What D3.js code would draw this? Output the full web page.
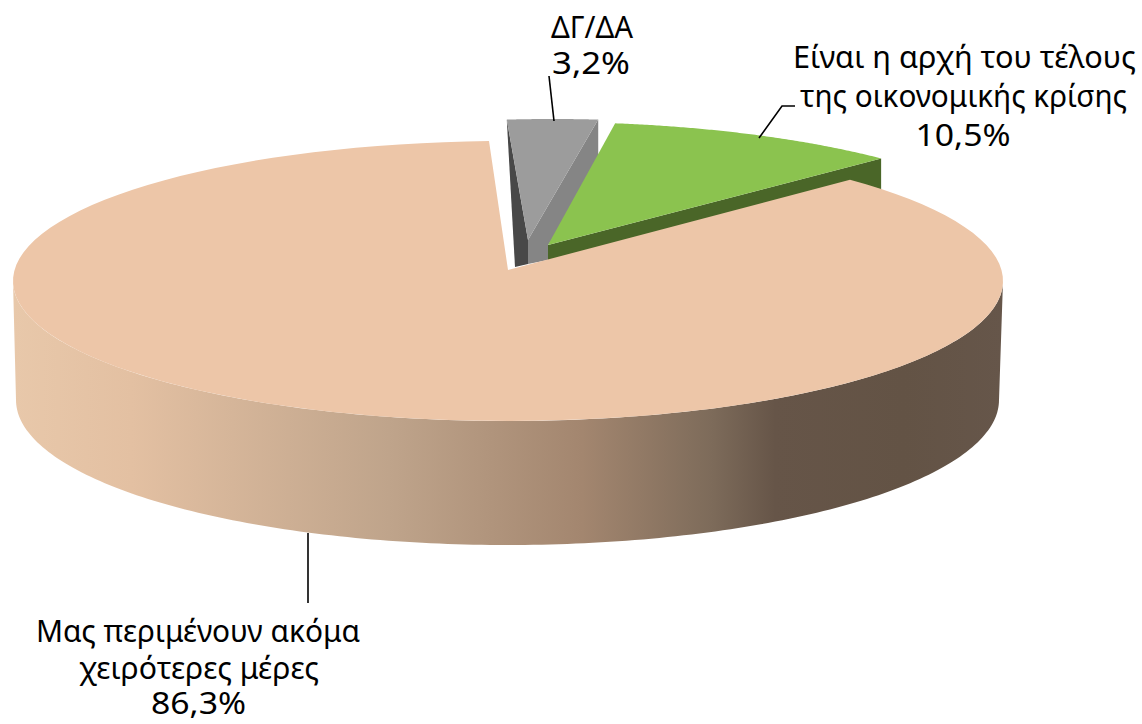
<!DOCTYPE html>
<html><head><meta charset="utf-8">
<script src="https://cdn.jsdelivr.net/npm/d3@7"></script>
<style>html,body{margin:0;padding:0;background:#fff}svg{display:block}text{font-family:"Noto Sans",sans-serif;font-size:31px;fill:#000}</style>
</head><body><svg width="1142" height="724"></svg>
<script>
const categories = ["Μας περιμένουν ακόμα χειρότερες μέρες", "ΔΓ/ΔΑ", "Είναι η αρχή του τέλους της οικονομικής κρίσης"];
const values = [86.3, 3.2, 10.5];
const valueLabels = ["86,3%", "3,2%", "10,5%"];
const topColors = ["#edc6a8", "#9c9c9c", "#8bc34f"];

const rad = Math.PI / 180;
const svg = d3.select("svg");
const pie = d3.pie().sort(null).value(d => d).startAngle(44 * rad).endAngle(404 * rad);
const arcs = pie(values);

// projection of each exploded slice onto the tilted plane
const geo = [
  {cx: 508, cy: 281, rx: 495, ry: 140, ax: 508, ay: 270, trim: [43.7, 357.8]},
  {cx: 552.5, cy: 258.4, rx: 495, ry: 139.4, ax: 528, ay: 240, trim: [354.7, 365.3]},
  {cx: 548, cy: 262, rx: 495, ry: 140, ax: 548, ay: 245, trim: [7.8, 42.3]}
];
arcs.forEach((a, i) => {
  a.toScreen = d3.scaleLinear().domain([a.startAngle, a.endAngle]).range(geo[i].trim.map(t => t * rad));
});
const pt = (g, t) => [g.cx + g.rx * Math.sin(t), g.cy - g.ry * Math.cos(t)];
const arcPts = (g, a) => d3.range(0, 1.0001, 1 / 120).map(f => pt(g, a.toScreen(a.startAngle + f * (a.endAngle - a.startAngle))));
const line = d3.line();
const poly = (pts, fill) => svg.append("path").attr("d", line(pts) + "Z").attr("fill", fill);

// rim gradient of the large slice
const grad = svg.append("defs").append("linearGradient").attr("id", "rim")
  .attr("gradientUnits", "userSpaceOnUse").attr("x1", 13).attr("x2", 1003).attr("y1", 0).attr("y2", 0);
[[0, "#e8c8aa"], [.12, "#e3c0a2"], [.38, "#bfa48b"], [.575, "#a3866f"], [.706, "#7d6b5a"], [.77, "#665548"], [.9, "#635345"], [1, "#66564a"]]
  .forEach(([o, c]) => grad.append("stop").attr("offset", o).attr("stop-color", c));

// green slice: cut face, then top
const gG = geo[2], gPts = arcPts(gG, arcs[2]), gEnd = gPts[gPts.length - 1];
poly([[gG.ax, gG.ay], gEnd, [gEnd[0], gEnd[1] + 40], [gG.ax, gG.ay + 25]], "#4a6628");

// grey slice: two cut faces, then top
const yG = geo[1], yPts = arcPts(yG, arcs[1]), yA = yPts[0], yB = yPts[yPts.length - 1];
poly([yA, [yG.ax, yG.ay], [yG.ax, yG.ay + 24], [515, 267]], "#484848");
poly([yB, [yG.ax, yG.ay], [yG.ax, yG.ay + 24], [gG.ax, gG.ay + 15], [gG.ax, gG.ay], [yB[0], yB[1] + 60]], "#858585");
poly([[yG.ax, yG.ay], ...yPts], topColors[1]);
poly([[gG.ax, gG.ay], ...gPts], topColors[2]);

// large slice: rim, then top
const pG = geo[0];
const front = d3.range(90, 270.01, 1).map(d => [pG.cx + pG.rx * Math.sin(d * rad), pG.cy - pG.ry * Math.cos(d * rad)]);
const bottom = d3.range(270, 89.99, -1).map(d => [507.5 + 491.5 * Math.sin(d * rad), 400 - 145 * Math.cos(d * rad)]);
svg.append("path").attr("d", line([...front, ...bottom]) + "Z").attr("fill", "url(#rim)");
poly([[pG.ax, pG.ay], ...arcPts(pG, arcs[0])], topColors[0]);

// leader lines
[[[549, 76], [554, 121]], [[795, 106], [782, 106], [759, 138]], [[308, 533], [308, 603]]].forEach(l =>
  svg.append("path").attr("d", line(l)).attr("fill", "none").attr("stroke", "#000").attr("stroke-width", 1.6));

// labels
const labelLines = [
  {t: "ΔΓ/ΔΑ", x: 592, y: 38, w: 82},
  {t: valueLabels[1], x: 591, y: 74, w: 78},
  {t: "Είναι η αρχή του τέλους", x: 964.5, y: 68, w: 343},
  {t: "της οικονομικής κρίσης", x: 963.5, y: 107, w: 327},
  {t: valueLabels[2], x: 963, y: 146, w: 95},
  {t: "Μας περιμένουν ακόμα", x: 198, y: 642, w: 324},
  {t: "χειρότερες μέρες", x: 199, y: 679, w: 240},
  {t: valueLabels[0], x: 198.5, y: 714, w: 95}
];
svg.selectAll("text.l").data(labelLines).join("text").attr("class", "l")
  .attr("text-anchor", "middle").attr("x", d => d.x).attr("y", d => d.y)
  .attr("textLength", d => d.w).attr("lengthAdjust", "spacingAndGlyphs").text(d => d.t);
</script></body></html>
